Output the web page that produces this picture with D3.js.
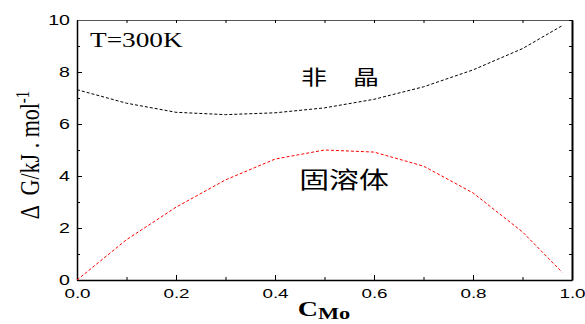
<!DOCTYPE html>
<html>
<head>
<meta charset="utf-8">
<script src="https://cdn.jsdelivr.net/npm/d3@7"></script>
<style>
  body { margin: 0; background: #fff; }
</style>
</head>
<body>
<div id="chart"></div>
<script>
// composition steps and Gibbs energies (kJ/mol)
const cMo = [0.0, 0.1, 0.2, 0.3, 0.4, 0.5, 0.6, 0.7, 0.8, 0.9, 0.98];
const amorphous = [7.32, 6.8, 6.45, 6.36, 6.43, 6.62, 6.95, 7.43, 8.08, 8.9, 9.78];
const solidSol = [0.0, 1.55, 2.8, 3.85, 4.65, 5.0, 4.92, 4.38, 3.35, 1.85, 0.3];
const xTicks = [0, 0.2, 0.4, 0.6, 0.8, 1.0];
const yTicks = [0, 2, 4, 6, 8, 10];

const width = 585, height = 324;
const margin = { top: 20, right: 13, bottom: 44, left: 77 };

const svg = d3.select("#chart").append("svg")
  .attr("width", width)
  .attr("height", height);

const x = d3.scaleLinear().domain([0, 1]).range([margin.left, width - margin.right]);
const y = d3.scaleLinear().domain([0, 10]).range([height - margin.bottom, margin.top]);

const sans = "'Liberation Sans', Arial, sans-serif";
const serif = "'Liberation Serif', 'Times New Roman', serif";
const cjk = "'Noto Sans CJK SC', sans-serif";

// axes, ticks pointing inward
const bottomAxis = svg.append("g")
  .attr("transform", `translate(0,${y(0)})`)
  .call(d3.axisBottom(x).tickValues(xTicks).tickFormat(d3.format(".1f")).tickSizeInner(-5).tickSizeOuter(0).tickPadding(9));
const leftAxis = svg.append("g")
  .attr("transform", `translate(${x(0)},0)`)
  .call(d3.axisLeft(y).tickValues(yTicks).tickFormat(d3.format("d")).tickSizeInner(-5).tickSizeOuter(0).tickPadding(5));
const topAxis = svg.append("g")
  .attr("transform", `translate(0,${y(10)})`)
  .call(d3.axisTop(x).tickValues(d3.range(0, 1.01, 0.1)).tickFormat("").tickSizeInner(-3).tickSizeOuter(0));
const rightAxis = svg.append("g")
  .attr("transform", `translate(${x(1)},0)`)
  .call(d3.axisRight(y).tickValues(d3.range(0, 10.1, 1)).tickFormat("").tickSizeInner(-3).tickSizeOuter(0));

// minor ticks
svg.append("g")
  .attr("transform", `translate(0,${y(0)})`)
  .call(d3.axisBottom(x).tickValues([0.1, 0.3, 0.5, 0.7, 0.9]).tickFormat("").tickSizeInner(-3).tickSizeOuter(0))
  .select(".domain").remove();
svg.append("g")
  .attr("transform", `translate(${x(0)},0)`)
  .call(d3.axisLeft(y).tickValues([1, 3, 5, 7, 9]).tickFormat("").tickSizeInner(-3).tickSizeOuter(0))
  .select(".domain").remove();

svg.selectAll(".domain").attr("stroke", "#000").attr("stroke-width", 1.5);
svg.selectAll(".tick line").attr("stroke", "#000").attr("stroke-width", 1);
topAxis.select(".domain").attr("stroke", "#555").attr("stroke-width", 1.2);
rightAxis.select(".domain").attr("stroke-width", 2);

// the original lettering is stretched sideways
bottomAxis.selectAll("text")
  .style("font-family", sans).style("font-size", "13px").attr("fill", "#000")
  .attr("transform", "scale(1.45,1)");
leftAxis.selectAll("text")
  .style("font-family", sans).style("font-size", "14px").attr("fill", "#000")
  .attr("transform", "scale(1.4,1)");

// curves
const line = d3.line().x((d, i) => x(cMo[i])).y(d => y(d));
svg.append("path").datum(amorphous)
  .attr("d", line).attr("fill", "none")
  .attr("stroke", "#000").attr("stroke-width", 1).attr("stroke-dasharray", "3,2");
svg.append("path").datum(solidSol)
  .attr("d", line).attr("fill", "none")
  .attr("stroke", "#ff0000").attr("stroke-width", 1).attr("stroke-dasharray", "3,2");

// annotations
svg.append("text")
  .attr("transform", "translate(90,47) scale(1.3,1)")
  .style("font-family", serif).style("font-size", "21px").text("T=300K");
svg.append("text")
  .attr("transform", "translate(340,85) scale(1.3,1)")
  .attr("text-anchor", "middle")
  .style("font-family", cjk).style("font-size", "20px")
  .text("非\u3000晶");
svg.append("text")
  .attr("transform", "translate(344,188) scale(1.3,1)")
  .attr("text-anchor", "middle")
  .style("font-family", cjk).style("font-size", "23px").text("固溶体");

// axis titles
const yl = svg.append("text")
  .attr("transform", "translate(39,155) rotate(-90) scale(1,1.25)")
  .attr("text-anchor", "middle")
  .style("font-family", serif).style("font-size", "22px")
  .style("white-space", "pre");
yl.append("tspan").text("Δ  G/kJ . mol");
yl.append("tspan").attr("dy", -8).style("font-size", "15px").text("-1");

const xl = svg.append("text")
  .attr("transform", "translate(324,316) scale(1.4,1)")
  .attr("text-anchor", "middle")
  .style("font-family", serif).style("font-size", "20px").style("font-weight", "bold");
xl.append("tspan").text("C");
xl.append("tspan").attr("dy", 3).style("font-size", "16px").text("Mo");
</script>
</body>
</html>
